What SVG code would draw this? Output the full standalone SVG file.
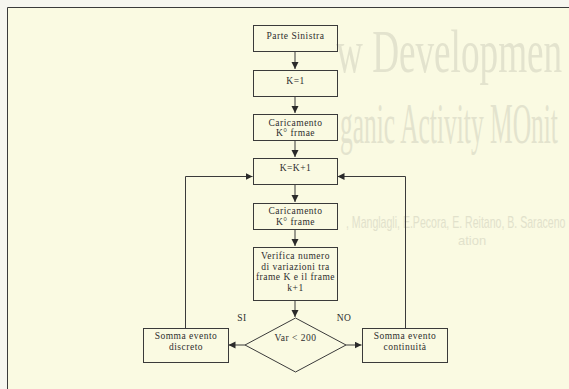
<svg xmlns="http://www.w3.org/2000/svg" width="569" height="389" viewBox="0 0 569 389">
<style>
.box{fill:none;stroke:#3a3a3a;stroke-width:1}
.t{font-family:"Liberation Serif","Times New Roman",serif;font-size:9.5px;fill:#2e2e2e;text-anchor:middle;letter-spacing:0.5px}
.ln{fill:none;stroke:#3a3a3a;stroke-width:1}
.bgt{font-family:"Liberation Serif",serif;fill:#c9c9b6;opacity:0.45}
.bgs{font-family:"Liberation Sans",Arial,sans-serif;fill:#c9c9b6;opacity:0.5}
</style>
<defs>
<marker id="ah" markerWidth="8" markerHeight="8" refX="7" refY="3.5" orient="auto" markerUnits="userSpaceOnUse">
<path d="M0,0 L7,3.5 L0,7 Z" fill="#2a2a2a"/>
</marker>
</defs>
<rect x="0" y="0" width="569" height="389" fill="#f6f6ef"/>
<rect x="8" y="8" width="561" height="381" fill="#fafae2"/>
<g id="background-text">
<text class="bgt" transform="translate(336,72) scale(0.6,1)" x="0" y="0" font-size="62">w Developmen</text>
<text class="bgt" transform="translate(340,143) scale(0.455,1)" x="0" y="0" font-size="56">ganic Activity MOnit</text>
<text class="bgs" transform="translate(346,228) scale(0.66,1)" x="0" y="0" font-size="16">, Manglagli, E.Pecora, E. Reitano, B. Saraceno</text>
<text class="bgs" x="458" y="245" font-size="13">ation</text>
</g>
<g id="frame">
<path class="ln" d="M7.5,389 V7.5 H569" stroke="#555"/>
</g>
<g id="connectors">
<path class="ln" d="M295,51 V69" marker-end="url(#ah)"/>
<path class="ln" d="M295,96 V113" marker-end="url(#ah)"/>
<path class="ln" d="M295,140 V157" marker-end="url(#ah)"/>
<path class="ln" d="M295,184 V202" marker-end="url(#ah)"/>
<path class="ln" d="M295,229 V246" marker-end="url(#ah)"/>
<path class="ln" d="M295,300 V317" marker-end="url(#ah)"/>
<path class="ln" d="M245,345 H228.5" marker-end="url(#ah)"/>
<path class="ln" d="M346,345 H361.5" marker-end="url(#ah)"/>
<path class="ln" d="M185.5,328 V176.5 H252.5" marker-end="url(#ah)"/>
<path class="ln" d="M405.5,328 V176.5 H337.5" marker-end="url(#ah)"/>
<text class="t" x="242" y="321">SI</text>
<text class="t" x="344" y="321">NO</text>
</g>
<g id="n1"><rect class="box" x="253.5" y="25.5" width="84" height="26"/><text class="t" x="295.5" y="39">Parte Sinistra</text></g>
<g id="n2"><rect class="box" x="253.5" y="70.5" width="84" height="26"/><text class="t" x="295.5" y="84">K=1</text></g>
<g id="n3"><rect class="box" x="253.5" y="114.5" width="84" height="26"/><text class="t" x="295.5" y="125.5">Caricamento</text><text class="t" x="295.5" y="136">K° frmae</text></g>
<g id="n4"><rect class="box" x="253.5" y="158.5" width="84" height="26"/><text class="t" x="295.5" y="170.5">K=K+1</text></g>
<g id="n5"><rect class="box" x="253.5" y="203.5" width="84" height="26"/><text class="t" x="295.5" y="214">Caricamento</text><text class="t" x="295.5" y="224.5">K° frame</text></g>
<g id="n6"><rect class="box" x="253.5" y="247.5" width="84" height="53"/><text class="t" x="295.5" y="259">Verifica numero</text><text class="t" x="295.5" y="269.5">di variazioni tra</text><text class="t" x="295.5" y="280">frame K e il frame</text><text class="t" x="295.5" y="290.5">k+1</text></g>
<g id="n7"><path class="box" d="M295.5,318 L346,345 L295.5,372 L245,345 Z"/><text class="t" x="295.5" y="341">Var &lt; 200</text></g>
<g id="n8"><rect class="box" x="143.5" y="328.5" width="85" height="34"/><text class="t" x="186" y="338.5">Somma evento</text><text class="t" x="186" y="349.5">discreto</text></g>
<g id="n9"><rect class="box" x="362.5" y="328.5" width="85" height="34"/><text class="t" x="405" y="338.5">Somma evento</text><text class="t" x="405" y="349.5">continuità</text></g>
</svg>
